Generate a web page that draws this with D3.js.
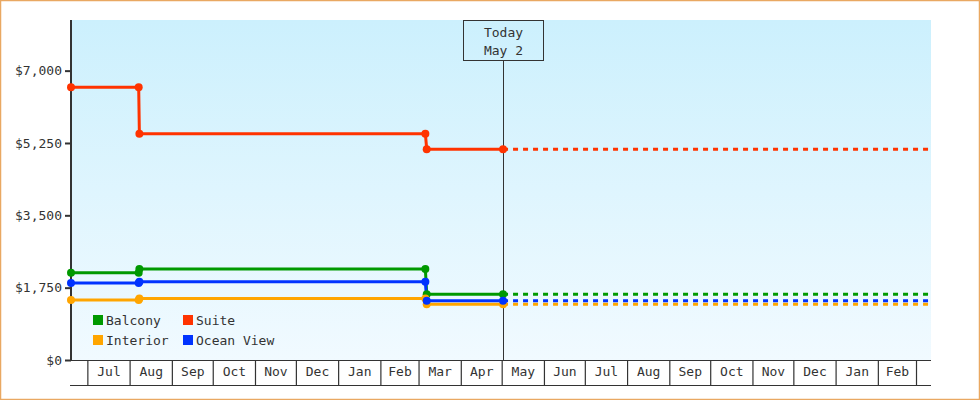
<!DOCTYPE html>
<html>
<head>
<meta charset="utf-8">
<script src="https://cdn.jsdelivr.net/npm/d3@7"></script>
<style>
  html, body { margin: 0; padding: 0; background: #fff; }
  text { font-family: "DejaVu Sans Mono", monospace; font-size: 13px; fill: #333; }
</style>
</head>
<body>
<svg id="chart" width="980" height="400"></svg>
<script>
// ---- data ----
const seriesNames = ["Balcony", "Interior", "Suite", "Ocean View"];
const seriesColors = ["#009900", "#ffa500", "#ff3300", "#0033ff"];
const pointDates = ["2017-06-19T00:00", "2017-08-07T16:00", "2017-08-08T04:00", "2018-03-06T00:00", "2018-03-07T00:00", "2018-05-02T00:00"];
const balconyValues = [2110, 2110, 2200, 2200, 1590, 1590];
const interiorValues = [1450, 1450, 1485, 1485, 1350, 1350];
const suiteValues = [6600, 6600, 5475, 5475, 5100, 5100];
const oceanViewValues = [1860, 1860, 1895, 1895, 1435, 1435];
const yTickValues = [0, 1750, 3500, 5250, 7000];
const todayDate = "2018-05-02T00:00";
const todayLabel = ["Today", "May 2"];
const domainStart = "2017-06-19T00:00";
const domainEnd = "2019-03-12T00:00";
const yMax = 8225;

const allValues = [balconyValues, interiorValues, suiteValues, oceanViewValues];
const parse = d3.isoParse;

// ---- layout ----
const W = 980, H = 400;
const pL = 71, pR = 931, pT = 20, pB = 360;

const svg = d3.select("#chart");

svg.append("rect").attr("x", 0.5).attr("y", 0.5).attr("width", W - 1).attr("height", H - 1)
  .attr("fill", "#fff").attr("stroke", "#e9a862").attr("stroke-width", 1.5);

const defs = svg.append("defs");
const grad = defs.append("linearGradient").attr("id", "bg").attr("x1", 0).attr("y1", 0).attr("x2", 0).attr("y2", 1);
grad.append("stop").attr("offset", "0%").attr("stop-color", "#ccf0fd");
grad.append("stop").attr("offset", "100%").attr("stop-color", "#f1faff");
defs.append("clipPath").attr("id", "clip").append("rect")
  .attr("x", pL).attr("y", pT).attr("width", pR - pL).attr("height", pB - pT);

svg.append("rect").attr("x", pL).attr("y", pT).attr("width", pR - pL).attr("height", pB - pT)
  .attr("fill", "url(#bg)");

const x = d3.scaleTime().domain([parse(domainStart), parse(domainEnd)]).range([pL, pR]);
const y = d3.scaleLinear().domain([0, yMax]).range([pB, pT]);

// ---- y axis ----
const yAxis = svg.append("g").attr("transform", `translate(${pL},0)`)
  .call(d3.axisLeft(y).tickValues(yTickValues).tickSize(6).tickPadding(3)
    .tickFormat(d => "$" + d3.format(",")(d)));
yAxis.select(".domain").remove();
yAxis.selectAll(".tick line").attr("stroke", "#333").attr("stroke-width", 2);
yAxis.selectAll(".tick text").style("font-family", '"DejaVu Sans Mono", monospace').style("font-size", "13px").attr("fill", "#333");
svg.append("line").attr("x1", pL).attr("x2", pL).attr("y1", pT).attr("y2", pB)
  .attr("stroke", "#333").attr("stroke-width", 2);

// ---- x axis ----
const monthStarts = d3.timeMonth.range(d3.timeMonth.ceil(x.domain()[0]), x.domain()[1]);
const mids = [];
for (let i = 0; i < monthStarts.length - 1; i++) {
  mids.push(new Date((+monthStarts[i] + +monthStarts[i + 1]) / 2));
}
const sepAxis = svg.append("g").attr("transform", `translate(0,${pB})`)
  .call(d3.axisBottom(x).tickValues(monthStarts).tickSize(25).tickFormat(""));
sepAxis.select(".domain").remove();
sepAxis.selectAll(".tick line").attr("stroke", "#333").attr("stroke-width", 1.2);
const labAxis = svg.append("g").attr("transform", `translate(0,${pB})`)
  .call(d3.axisBottom(x).tickValues(mids).tickSize(0).tickPadding(7).tickFormat(d3.timeFormat("%b")));
labAxis.select(".domain").remove();
labAxis.selectAll(".tick text").style("font-family", '"DejaVu Sans Mono", monospace').style("font-size", "13px").attr("fill", "#222");
svg.append("line").attr("x1", pL).attr("x2", pR).attr("y1", pB + 0.5).attr("y2", pB + 0.5)
  .attr("stroke", "#333").attr("stroke-width", 1.2);
svg.append("line").attr("x1", pL - 1).attr("x2", pR).attr("y1", pB + 25.5).attr("y2", pB + 25.5)
  .attr("stroke", "#333").attr("stroke-width", 1.2);

// ---- today marker ----
const tx = Math.round(x(parse(todayDate))) + 0.5;
svg.append("rect").attr("x", tx - 40).attr("y", pT + 0.5).attr("width", 80).attr("height", 40)
  .attr("fill", "none").attr("stroke", "#333").attr("stroke-width", 1);
svg.append("line").attr("x1", tx).attr("x2", tx).attr("y1", pT + 40.5).attr("y2", pB)
  .attr("stroke", "#333").attr("stroke-width", 1);
svg.selectAll("text.today").data(todayLabel).join("text").attr("class", "today")
  .attr("x", tx).attr("y", (d, i) => pT + 17 + i * 18).attr("text-anchor", "middle").text(d => d);

// ---- series ----
const plot = svg.append("g").attr("clip-path", "url(#clip)");
const line = d3.line().x(d => x(d[0])).y(d => y(d[1]));
const series = seriesNames.map((name, i) => ({
  name, color: seriesColors[i],
  pts: pointDates.map((d, j) => [parse(d), allValues[i][j]])
}));
// projections (dashed)
series.forEach(s => {
  const last = s.pts[s.pts.length - 1];
  plot.append("path").attr("d", line([last, [parse(domainEnd), last[1]]]))
    .attr("fill", "none").attr("stroke", s.color).attr("stroke-width", 3).attr("stroke-dasharray", "5,5");
});
series.forEach(s => {
  plot.append("path").attr("d", line(s.pts))
    .attr("fill", "none").attr("stroke", s.color).attr("stroke-width", 3);
});
const sym = d3.symbol().type(d3.symbolCircle).size(50);
series.forEach(s => {
  svg.append("g").selectAll("path").data(s.pts).join("path")
    .attr("transform", d => `translate(${x(d[0])},${y(d[1])})`)
    .attr("d", sym).attr("fill", s.color);
});

// ---- legend ----
const legendPos = [[93, 315], [93, 335], [183, 315], [183, 335]];
const lg = svg.append("g");
series.forEach((s, i) => {
  const [lx, ly] = legendPos[i];
  lg.append("rect").attr("x", lx).attr("y", ly).attr("width", 10).attr("height", 10).attr("fill", s.color);
  lg.append("text").attr("x", lx + 13).attr("y", ly + 10).text(s.name);
});
</script>
</body>
</html>
